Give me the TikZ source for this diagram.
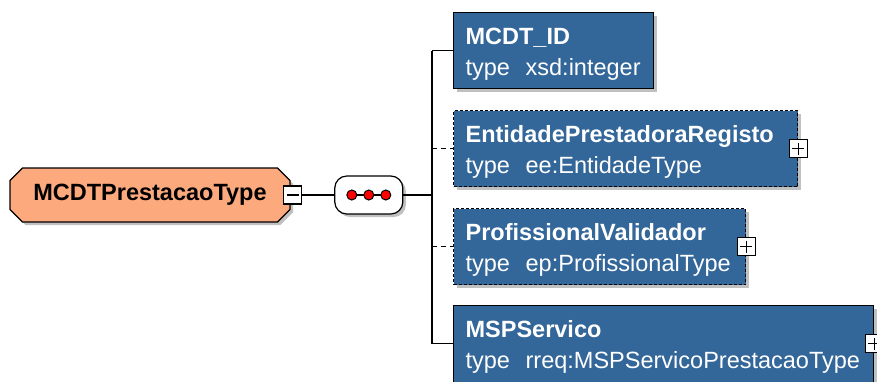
\documentclass[tikz,border=0pt]{standalone}
\usepackage{fontspec}
\setmainfont{Liberation Sans}
\usepackage{xcolor}
\definecolor{elemfill}{HTML}{336699}
\definecolor{typefill}{HTML}{FBA97D}
\usetikzlibrary{positioning, shapes.misc, shadows}
\newcommand{\diafont}{\fontsize{23.5pt}{31pt}\selectfont}
\tikzset{
    shade/.style={
        drop shadow={shadow xshift=3pt, shadow yshift=-3pt,
                     fill=black!35, opacity=0.7}
    },
    ctype/.style={
        chamfered rectangle, chamfered rectangle xsep=9pt,
        draw, line width=1.2pt, fill=typefill, shade,
        minimum width=280pt, minimum height=54pt,
        inner sep=0pt, font=\diafont\bfseries
    },
    elem/.style={
        rectangle, draw, line width=1.2pt, fill=elemfill, shade,
        text=white, align=left, anchor=north west,
        inner xsep=12pt, inner ysep=0pt, minimum height=76pt,
        font=\diafont,
        execute at begin node={\rule{0pt}{24pt}},
        execute at end node={\rule[-5pt]{0pt}{5pt}}
    },
    opt/.style={elem, dash pattern=on 3pt off 2pt},
    conn/.style={line width=1.2pt},
    optconn/.style={conn, dash pattern=on 5pt off 4pt},
    seq/.style={
        rectangle, rounded corners=12pt, draw, line width=1.2pt,
        fill=white, shade, minimum width=68pt, minimum height=38pt,
        path picture={
            \draw[line width=1.4pt] ([xshift=-17pt]path picture bounding box.center)
                -- ([xshift=17pt]path picture bounding box.center);
            \foreach \dx in {-17,0,17}
                \draw[fill=red, line width=1pt]
                    ([xshift=\dx pt]path picture bounding box.center) circle (5pt);}
    },
    toggle/.style={
        rectangle, draw, line width=1.2pt, fill=white,
        minimum size=18pt, inner sep=0pt
    },
    collapse/.style={toggle,
        path picture={
            \draw[line width=1.2pt] ([xshift=-6pt]path picture bounding box.center)
                -- ([xshift=6pt]path picture bounding box.center);}
    },
    expand/.style={toggle,
        path picture={
            \draw[line width=1.2pt] ([xshift=-6pt]path picture bounding box.center)
                -- ([xshift=6pt]path picture bounding box.center);
            \draw[line width=1.2pt] ([yshift=-6pt]path picture bounding box.center)
                -- ([yshift=6pt]path picture bounding box.center);}
    },
}

\begin{document}
\begin{tikzpicture}[x=1pt, y=1pt]
    \fill[white] (0,0) rectangle (877,381);
    \useasboundingbox (0,0) rectangle (877,381);

    \node[ctype] (ptype) at (150,186) {MCDTPrestacaoType};
    \node[collapse] (col) at ([xshift=2pt]ptype.east) {};
    \node[seq, right=32pt of col] (seq) {};
    \coordinate (bus) at (432,186);

    \node[elem, text width=176pt] (mcdt) at (453,369)
        {\textbf{MCDT\_ID}\\type\ \ xsd:integer};
    \node[opt, text width=320pt] (entidade) at (453,271)
        {\textbf{EntidadePrestadoraRegisto}\\type\ \ ee:EntidadeType};
    \node[opt, text width=268pt] (prof) at (453,173)
        {\textbf{ProfissionalValidador}\\type\ \ ep:ProfissionalType};
    \node[elem, text width=396pt, minimum height=84pt,
          execute at end node={\rule[-13pt]{0pt}{13pt}}] (msp) at (453,76)
        {\textbf{MSPServico}\\type\ \ rreq:MSPServicoPrestacaoType};
    \coordinate (mspin) at ([yshift=4pt]msp.west);

    \node[expand] (entexp) at (entidade.east) {};
    \node[expand] (profexp) at (prof.east) {};
    \node[expand] (mspexp) at ([yshift=4pt]msp.east) {};

    \draw[conn] (col) -- (seq);
    \draw[conn] (seq) -- (bus);
    \draw[conn] (bus |- mcdt.west) -- (bus |- mspin);
    \draw[conn] (bus |- mcdt.west) -- (mcdt.west);
    \draw[conn] (bus |- mspin) -- (mspin);
    \foreach \n in {entidade, prof}
        \draw[optconn] (bus |- \n.west) -- (\n.west);
\end{tikzpicture}
\end{document}
